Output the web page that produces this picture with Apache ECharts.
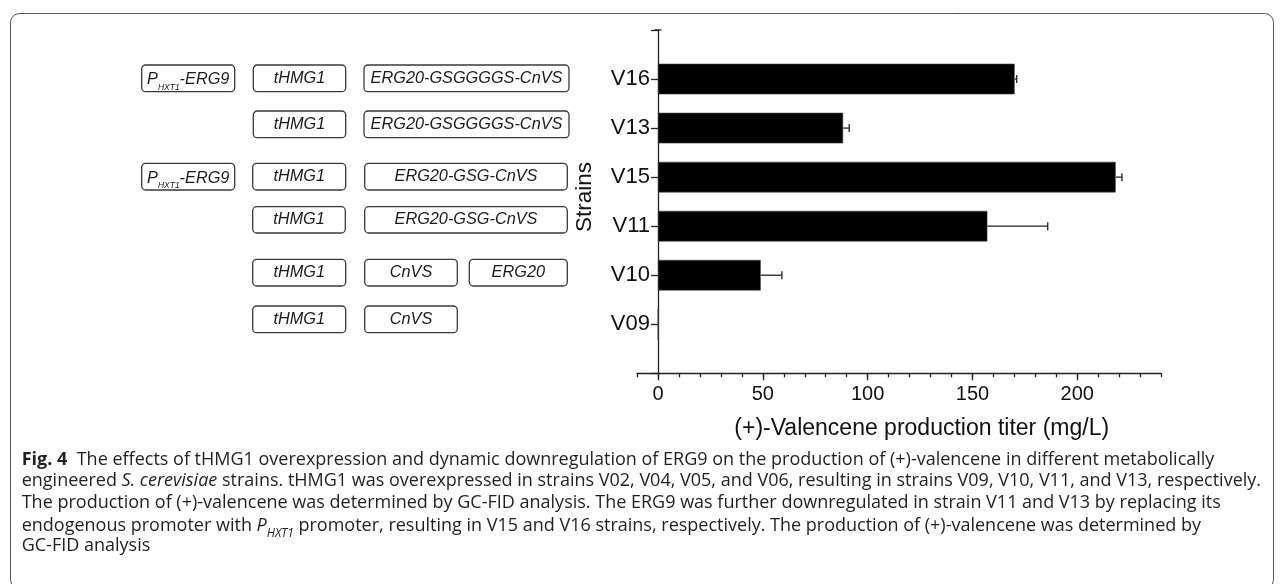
<!DOCTYPE html>
<html><head><meta charset="utf-8">
<script src="https://cdn.jsdelivr.net/npm/echarts@6/dist/echarts.min.js"></script>
<style>html,body{margin:0;padding:0;background:#fff}#c{width:1284px;height:584px}</style>
</head><body><div id="c"></div>
<script>
// ---- data ----
const strains   = ['V09', 'V10', 'V11', 'V15', 'V13', 'V16'];
const titer     = [0, 49.0, 157.1, 218.3, 88.3, 170.1];
const titerErr  = [0, 10.1, 28.8, 3.0, 2.9, 1.0];
const xMin = -10, xMax = 240, xMinorStep = 10;
const xLabelMax = 200, xLabelStep = 50;

// ---- layout constants ----
const pxPerUnit = 2.0965;
const zeroX = 658;
const gridTop = 30, gridBottomY = 373.3;
const AX = '#222';
const SANS = 'Arial, "Liberation Sans", Helvetica, sans-serif';
const CAP = '"Open Sans", "Noto Sans", sans-serif';

const cats = [''].concat(strains, [' ']);
const barData = [null].concat(titer, [null]);
const errData = strains.map((s, i) => [titer[i], i + 1, titerErr[i]]);

// ---- left schematic (construct boxes) ----
const rows = [
  {y: 65,    h: 26.7, boxes: [['P', 141.7, 234.7], ['tHMG1', 253.3, 345.7], ['ERG20-GSGGGGS-CnVS', 364, 569]]},
  {y: 111,   h: 26.7, boxes: [['tHMG1', 253.3, 345.7], ['ERG20-GSGGGGS-CnVS', 364, 569]]},
  {y: 163.3, h: 26.7, boxes: [['P', 141.7, 234.7], ['tHMG1', 252.7, 345.7], ['ERG20-GSG-CnVS', 364.7, 567.3]]},
  {y: 206.7, h: 26.3, boxes: [['tHMG1', 252.7, 345.3], ['ERG20-GSG-CnVS', 364.7, 567.3]]},
  {y: 259.3, h: 26.7, boxes: [['tHMG1', 252.7, 345.7], ['CnVS', 364.7, 457.3], ['ERG20', 469.3, 567.3]]},
  {y: 306,   h: 26.7, boxes: [['tHMG1', 252.7, 345.7], ['CnVS', 364.7, 457.3]]}
];
const boxFont = 16.3;
const graphics = [];
graphics.push({type: 'rect', shape: {x: 10.5, y: 13.5, width: 1263, height: 575, r: 9},
  style: {fill: 'none', stroke: '#555', lineWidth: 1}, silent: true});
rows.forEach(r => {
  r.boxes.forEach(b => {
    const [label, x0, x1] = b;
    graphics.push({type: 'rect', shape: {x: x0, y: r.y, width: x1 - x0, height: r.h, r: 4},
      style: {fill: '#fff', stroke: '#3a3a3a', lineWidth: 1.3}});
    const isP = label === 'P';
    graphics.push({type: 'text', x: (x0 + x1) / 2, y: r.y + r.h / 2 + (isP ? 1.5 : 0),
      style: {
        text: isP ? '{m|P}{s|HXT1}{m|-ERG9}' : '{m|' + label + '}',
        align: 'center', verticalAlign: 'middle',
        rich: {
          m: {fontFamily: SANS, fontStyle: 'italic', fontSize: boxFont, lineHeight: 24, fill: '#1a1a1a'},
          s: {fontFamily: SANS, fontStyle: 'italic', fontSize: 8.5, lineHeight: 9, verticalAlign: 'bottom', fill: '#1a1a1a'}
        }
      }});
  });
});

// axis title & strains title
graphics.push({type: 'text', x: 921.7, y: 429, style: {text: '(+)-Valencene production titer (mg/L)',
  fontFamily: SANS, fontSize: 23, fill: '#111', align: 'center', verticalAlign: 'middle'}});
graphics.push({type: 'text', x: 585, y: 197, rotation: Math.PI / 2, style: {text: 'Strains',
  fontFamily: SANS, fontSize: 22.5, fill: '#111', align: 'center', verticalAlign: 'middle'}});
// top end cap of the y axis
graphics.push({type: 'line', shape: {x1: zeroX - 3.5, y1: gridTop, x2: zeroX + 3.5, y2: gridTop},
  style: {stroke: AX, lineWidth: 1.3}});

// caption
const capSize = 18;
const capRich = {
  n: {fontFamily: CAP, fontSize: capSize, fill: '#231f20'},
  b: {fontFamily: CAP, fontSize: capSize, fontWeight: 'bold', fill: '#231f20'},
  i: {fontFamily: CAP, fontSize: capSize, fontStyle: 'italic', fill: '#231f20'},
  m: {fontFamily: CAP, fontSize: capSize, fontStyle: 'italic', fill: '#231f20', lineHeight: 26},
  s: {fontFamily: CAP, fontSize: 12, fontStyle: 'italic', fill: '#231f20', lineHeight: 12, verticalAlign: 'bottom'}
};
const capLines = [
  '{b|Fig. 4}{n|  The effects of tHMG1 overexpression and dynamic downregulation of ERG9 on the production of (+)-valencene in different metabolically}',
  '{n|engineered }{i|S. cerevisiae}{n| strains. tHMG1 was overexpressed in strains V02, V04, V05, and V06, resulting in strains V09, V10, V11, and V13, respectively.}',
  '{n|The production of (+)-valencene was determined by GC-FID analysis. The ERG9 was further downregulated in strain V11 and V13 by replacing its}',
  '{n|endogenous promoter with }{m|P}{s|HXT1}{n| promoter, resulting in V15 and V16 strains, respectively. The production of (+)-valencene was determined by}',
  '{n|GC-FID analysis}'
];
const capY = [459.5, 481.2, 502.6, 524.2, 545.8];
capLines.forEach((t, k) => {
  graphics.push({type: 'text', x: 21.7, y: capY[k] + (k === 3 ? 2 : 0), style: {text: t, rich: capRich,
    align: 'left', verticalAlign: 'middle'}});
});

const chart = echarts.init(document.getElementById('c'), null, {renderer: 'canvas'});
chart.setOption({
  animation: false,
  backgroundColor: '#fff',
  grid: [
    {left: zeroX + xMin * pxPerUnit, top: gridTop, width: (xMax - xMin) * pxPerUnit, height: gridBottomY - gridTop, containLabel: false},
    {left: zeroX, top: gridTop, width: xLabelMax * pxPerUnit, height: gridBottomY - gridTop, containLabel: false}
  ],
  xAxis: [
    {type: 'value', gridIndex: 0, min: xMin, max: xMax, interval: xMinorStep,
      axisLine: {show: true, onZero: false, lineStyle: {color: AX, width: 1.3}},
      axisTick: {show: true, length: 4, lineStyle: {color: AX, width: 1.3}},
      axisLabel: {show: false}, splitLine: {show: false}},
    {type: 'value', gridIndex: 1, min: 0, max: xLabelMax, interval: xLabelStep,
      axisLine: {show: false, onZero: false},
      axisTick: {show: true, length: 7, lineStyle: {color: AX, width: 1.3}},
      axisLabel: {show: true, fontFamily: SANS, fontSize: 20, color: '#111', margin: 11},
      splitLine: {show: false}}
  ],
  yAxis: [
    {type: 'category', gridIndex: 0, data: cats, boundaryGap: false,
      offset: xMin * pxPerUnit,
      axisLine: {show: true, onZero: false, lineStyle: {color: AX, width: 1.3}},
      axisTick: {show: true, length: 7, lineStyle: {color: AX, width: 1.3}},
      axisLabel: {show: true, fontFamily: SANS, fontSize: 22, color: '#111', margin: 8},
      splitLine: {show: false}},
    {type: 'value', gridIndex: 1, min: 0, max: 1, show: false}
  ],
  series: [
    {type: 'bar', xAxisIndex: 0, yAxisIndex: 0, data: barData, barWidth: 30.6,
      itemStyle: {color: '#000', borderColor: '#444', borderWidth: 0.6}, silent: true},
    {type: 'custom', xAxisIndex: 0, yAxisIndex: 0, data: errData, silent: true,
      encode: {x: 0, y: 1},
      renderItem: function (params, api) {
        const v = api.value(0), y = api.value(1), e = api.value(2);
        if (!e) return null;
        const p0 = api.coord([v, y]);
        const p1 = api.coord([v + e, y]);
        const st = {stroke: AX, lineWidth: 1.3};
        return {type: 'group', children: [
          {type: 'line', shape: {x1: p0[0], y1: p0[1], x2: p1[0], y2: p1[1]}, style: st},
          {type: 'line', shape: {x1: p1[0], y1: p1[1] - 4, x2: p1[0], y2: p1[1] + 4}, style: st}
        ]};
      }}
  ],
  graphic: graphics
});
</script></body></html>
